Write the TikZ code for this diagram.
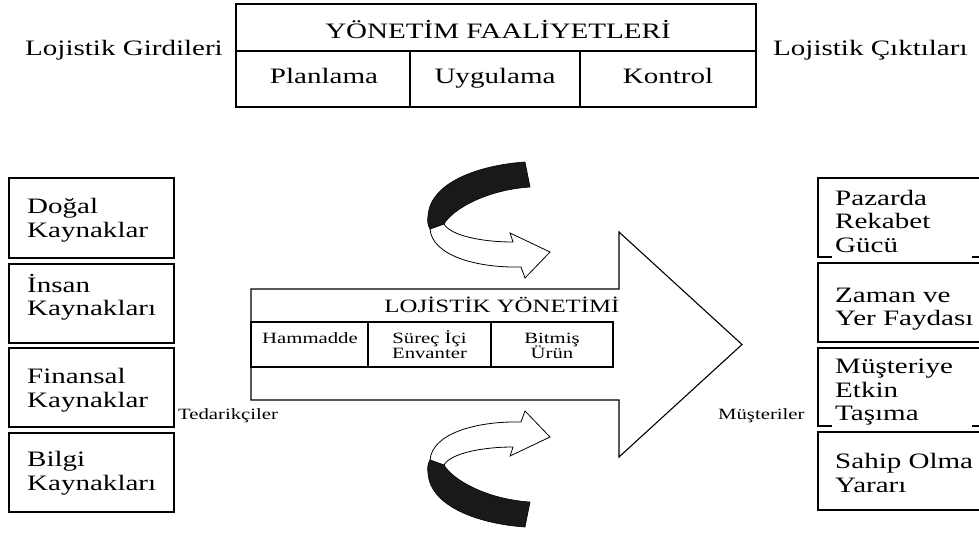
\documentclass[tikz,border=0pt]{standalone}
\usepackage{fontspec}
\setmainfont{Liberation Serif}[FakeStretch=1.32]
\begin{document}
\begin{tikzpicture}[x=1pt,y=-1pt,line join=miter,
  box/.style={draw,line width=1.4pt},
  big/.style={font=\fontsize{22}{24}\selectfont,inner sep=0pt},
  mid/.style={font=\fontsize{18.8}{20}\selectfont,inner sep=0pt},
  small/.style={font=\fontsize{15.7}{17}\selectfont,inner sep=0pt},
  lt/.style={big,anchor=base west},
  ribbonback/.style={fill=black!90,draw=black,line width=0.6pt},
  ribbonfront/.style={fill=white,draw=black,line width=0.8pt}]
\useasboundingbox (0,0) rectangle (979,538);
\clip (0,0) rectangle (979,538);

% top management box
\draw[box] (236,4) rectangle (756,107);
\draw[box] (236,51) -- (756,51);
\draw[box] (410,51) -- (410,107);
\draw[box] (580,51) -- (580,107);
\node[big,anchor=base] (yf) at (498,38) {YÖNETİM FAALİYETLERİ};
\node[big,anchor=base] (plan) at (324,83) {Planlama};
\node[big,anchor=base] (uyg) at (495,83) {Uygulama};
\node[big,anchor=base] (kon) at (668,83) {Kontrol};
\node[lt] (girdi) at (25,55) {Lojistik Girdileri};
\node[lt] (cikti) at (773,55) {Lojistik Çıktıları};

% left boxes
\draw[box] (9,178) rectangle (174,258);
\draw[box] (9,264) rectangle (174,343);
\draw[box] (9,348) rectangle (174,427);
\draw[box] (9,433) rectangle (174,512);
\node[lt] (l1a) at (27,213) {Doğal};
\node[lt] (l1b) at (27,237) {Kaynaklar};
\node[lt] (l2a) at (27,292) {İnsan};
\node[lt] (l2b) at (27,315) {Kaynakları};
\node[lt] (l3a) at (27,383) {Finansal};
\node[lt] (l3b) at (27,407) {Kaynaklar};
\node[lt] (l4a) at (27,466) {Bilgi};
\node[lt] (l4b) at (27,490) {Kaynakları};

% right boxes (cut at the right edge)
\draw[box] (832,257) -- (818,257) -- (818,178) -- (995,178);
\draw[box] (972,257) -- (995,257);
\draw[box] (995,263) -- (818,263) -- (818,342) -- (995,342);
\draw[box] (832,426) -- (818,426) -- (818,348) -- (995,348);
\draw[box] (972,426) -- (995,426);
\draw[box] (995,432) -- (818,432) -- (818,510) -- (995,510);
\node[lt] (r1a) at (835,205) {Pazarda};
\node[lt] (r1b) at (835,228) {Rekabet};
\node[lt] (r1c) at (835,252) {Gücü};
\node[lt] (r2a) at (835,302) {Zaman ve};
\node[lt] (r2b) at (835,325) {Yer Faydası};
\node[lt] (r3a) at (835,373) {Müşteriye};
\node[lt] (r3b) at (835,397) {Etkin};
\node[lt] (r3c) at (835,420) {Taşıma};
\node[lt] (r4a) at (835,468) {Sahip Olma};
\node[lt] (r4b) at (835,492) {Yararı};

% big arrow
\draw[line width=1.1pt] (251,289) -- (619,289) -- (619,232) -- (742,344.5)
  -- (619,457) -- (619,400) -- (251,400) -- cycle;
\draw[line width=1.4pt] (251,322) rectangle (613,367);
\draw[line width=1.2pt] (368,322) -- (368,367);
\draw[line width=1.2pt] (491,322) -- (491,367);
\node[mid,anchor=base] (lyt) at (502,312) {LOJİSTİK YÖNETİMİ};
\node[small,anchor=base] (ham) at (310,343) {Hammadde};
\node[small,anchor=base] (sur1) at (429.5,343) {Süreç İçi};
\node[small,anchor=base] (sur2) at (429.5,358) {Envanter};
\node[small,anchor=base] (bit1) at (552,343) {Bitmiş};
\node[small,anchor=base] (bit2) at (552,358) {Ürün};
\node[small,anchor=base west] (ted) at (178,419) {Tedarikçiler};
\node[small,anchor=base west] (mus) at (718,419) {Müşteriler};

% top curved ribbon arrow
\fill[ribbonback] (525,162) .. controls (480,165) and (430,182) .. (428,216)
  .. controls (427,221) and (428,226) .. (430,229) -- (444,224)
  .. controls (452,210) and (485,190) .. (530,187) -- cycle;
\filldraw[ribbonfront] (444,224) .. controls (450,235) and (480,242) .. (513,242)
  -- (510,233) -- (550,252) -- (525,278) -- (521,267)
  .. controls (475,268) and (432,255) .. (430,229) -- cycle;

% bottom curved ribbon arrow (mirror)
\fill[ribbonback] (525,527) .. controls (480,524) and (430,507) .. (428,473)
  .. controls (427,468) and (428,463) .. (430,460) -- (444,465)
  .. controls (452,479) and (485,499) .. (530,502) -- cycle;
\filldraw[ribbonfront] (444,465) .. controls (450,454) and (480,447) .. (513,447)
  -- (510,456) -- (550,437) -- (525,411) -- (521,422)
  .. controls (475,421) and (432,434) .. (430,460) -- cycle;
\end{tikzpicture}
\end{document}
